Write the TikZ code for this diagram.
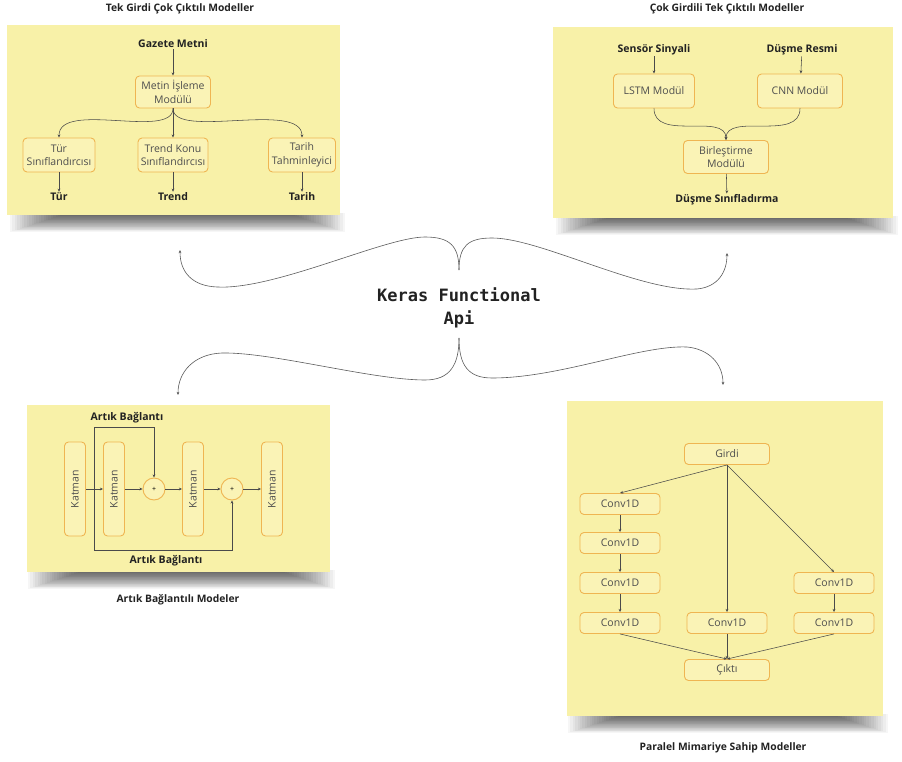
\documentclass[tikz,border=0pt]{standalone}
\usepackage{fontspec}
\setmainfont{Open Sans}
\setmonofont{DejaVu Sans Mono}
\usetikzlibrary{arrows.meta}

\definecolor{notefill}{HTML}{F8F1A8}
\definecolor{boxline}{HTML}{EFB552}
\definecolor{boxfill}{HTML}{FAF3B6}
\definecolor{wirecol}{HTML}{4A4A4A}
\definecolor{inkcol}{HTML}{222222}

% soft shadow under a note: stacked translucent strips, each narrower and shorter
% #1 left x, #2 right x, #3 lower edge of the note
\newcommand\noteshadow[3]{%
  \foreach \i in {0,...,23} {%
    \fill[black, opacity=0.034] (#1+2.4*\i, #3) rectangle (#2-2.4*\i, #3+19-0.78*\i);
  }%
}

\tikzset{
  note/.style={fill=notefill, draw=none},
  module/.style={draw=boxline, line width=0.9pt, rounded corners=4pt,
    fill=boxfill, align=center, inner sep=0pt, text=inkcol!80,
    font=\fontsize{10.5}{13.5}\selectfont},
  iotext/.style={font=\bfseries\fontsize{10.5}{13}\selectfont, text=inkcol, inner sep=1pt},
  paneltitle/.style={font=\bfseries\fontsize{10.3}{12}\selectfont, text=inkcol},
  adder/.style={circle, draw=boxline, line width=0.9pt, fill=boxfill,
    minimum size=22pt, inner sep=0pt, font=\fontsize{7}{8}\selectfont},
  wire/.style={draw=wirecol, line width=0.55pt, -{Stealth[length=3.2pt,width=2.8pt]}},
  brace/.style={draw=wirecol!90, line width=0.6pt, -{Stealth[length=3.2pt,width=2.8pt]}},
}

\begin{document}
\begin{tikzpicture}[x=1pt, y=-1pt]
\useasboundingbox[fill=white] (0,0) rectangle (902,762);

% ---------- shadows under the sticky notes ----------
\noteshadow{10}{345}{213}
\noteshadow{556}{898}{216}
\noteshadow{28}{335}{570}
\noteshadow{568}{888}{714}

% ---------- sticky-note panels ----------
\path[note] (7,25) rectangle (340,215);
\path[note] (553,27) rectangle (893,218);
\path[note] (27,405) rectangle (330,572);
\path[note] (567,401) rectangle (883,716);

% ---------- single input, multiple outputs ----------
\node[paneltitle] (t1) at (180,9) {Tek Girdi Çok Çıktılı Modeller};
\node[iotext] (gazete) at (173,44) {Gazete Metni};
\node[module, minimum width=75pt, minimum height=32pt] (metin) at (173,92) {Metin İşleme\\Modülü};
\node[module, minimum width=72pt, minimum height=34pt] (turc) at (59,155) {Tür\\Sınıflandırcısı};
\node[module, minimum width=70pt, minimum height=34pt] (trendc) at (173,155) {Trend Konu\\Sınıflandırcısı};
\node[module, minimum width=67pt, minimum height=34pt] (tarihc) at (302,155) {Tarih\\Tahminleyici};
\node[iotext] (tur) at (59,197) {Tür};
\node[iotext] (trend) at (173,197) {Trend};
\node[iotext] (tarih) at (302,197) {Tarih};

\draw[wire] (gazete) -- (metin);
\draw[wire] (metin.south) .. controls (173,140) and (59,100) .. (turc.north);
\draw[wire] (metin.south) -- (trendc.north);
\draw[wire] (metin.south) .. controls (173,140) and (302,100) .. (tarihc.north);
\draw[wire] (turc) -- (tur);
\draw[wire] (trendc) -- (trend);
\draw[wire] (tarihc) -- (tarih);

% ---------- multiple inputs, single output ----------
\node[paneltitle] (t2) at (727,9) {Çok Girdili Tek Çıktılı Modeller};
\node[iotext] (sensor) at (654,50) {Sensör Sinyali};
\node[iotext] (resim) at (802,50) {Düşme Resmi};
\node[module, minimum width=81pt, minimum height=34pt] (lstm) at (654,91) {LSTM Modül};
\node[module, minimum width=85pt, minimum height=34pt] (cnn) at (800,91) {CNN Modül};
\node[module, minimum width=85pt, minimum height=33pt] (birles) at (726,157) {Birleştirme\\Modülü};
\node[iotext] (dusme) at (727,200) {Düşme Sınıfladırma};

\draw[wire] (sensor) -- (lstm);
\draw[wire] (resim) -- (cnn);
\draw[wire] (lstm.south) .. controls (654,142) and (726,112) .. (birles.north);
\draw[wire] (cnn.south) .. controls (800,142) and (726,112) .. (birles.north);
\draw[wire] (birles) -- (dusme);

% ---------- centre title and braces ----------
\node[font=\ttfamily\bfseries\fontsize{17}{23}\selectfont, align=center, text=inkcol] (api) at (459,308) {Keras Functional\\Api};
\coordinate (cusptop) at (459,270);
\coordinate (cuspbot) at (459,338);
\coordinate (toTL) at (180,250);
\coordinate (toTR) at (727,253);
\coordinate (toBL) at (178,395);
\coordinate (toBR) at (723,385);

\draw[brace] (cusptop) .. controls (459,246) and (450,237) .. (425,237)
  .. controls (385,237) and (275,290) .. (217,287)
  .. controls (192,286) and (180,272) .. (toTL);
\draw[brace] (cusptop) .. controls (459,246) and (468,238) .. (492,238)
  .. controls (540,238) and (640,292) .. (697,289)
  .. controls (718,287) and (727,272) .. (toTR);
\draw[brace] (cuspbot) .. controls (459,365) and (450,380) .. (425,380)
  .. controls (372,380) and (272,352) .. (222,353)
  .. controls (194,354) and (178,372) .. (toBL);
\draw[brace] (cuspbot) .. controls (459,365) and (468,378) .. (492,378)
  .. controls (560,378) and (640,345) .. (687,347)
  .. controls (709,349) and (723,364) .. (toBR);

% ---------- residual connections ----------
\node[paneltitle] (t3) at (178,600) {Artık Bağlantılı Modeler};
\node[module, minimum width=21pt, minimum height=94pt] (k1) at (75,489) {\rotatebox{90}{Katman}};
\node[module, minimum width=21pt, minimum height=94pt] (k2) at (114,489) {\rotatebox{90}{Katman}};
\node[adder] (p1) at (154,489) {+};
\node[module, minimum width=21pt, minimum height=94pt] (k3) at (193,489) {\rotatebox{90}{Katman}};
\node[adder] (p2) at (232,489) {+};
\node[module, minimum width=21pt, minimum height=94pt] (k4) at (272,489) {\rotatebox{90}{Katman}};
\node[iotext] (skiptop) at (127,418) {Artık Bağlantı};
\node[iotext] (skipbot) at (166,561) {Artık Bağlantı};
\coordinate (split) at (94,489);
\coordinate (turntop) at (94,427);
\coordinate (turnbot) at (94,550);

\draw[wire] (k1) -- (k2);
\draw[wire] (k2) -- (p1);
\draw[wire] (p1) -- (k3);
\draw[wire] (k3) -- (p2);
\draw[wire] (p2) -- (k4);
\draw[wire] (split) -- (turntop) -| (p1.north);
\draw[wire] (split) -- (turnbot) -| (p2.south);

% ---------- parallel branches ----------
\node[paneltitle] (t4) at (723,748) {Paralel Mimariye Sahip Modeller};
\node[module, minimum width=85pt, minimum height=21pt] (girdi) at (727,454) {Girdi};
\node[module, minimum width=80pt, minimum height=21pt] (a1) at (620,504) {Conv1D};
\node[module, minimum width=80pt, minimum height=21pt] (a2) at (620,543) {Conv1D};
\node[module, minimum width=80pt, minimum height=21pt] (a3) at (620,583) {Conv1D};
\node[module, minimum width=80pt, minimum height=21pt] (a4) at (620,623) {Conv1D};
\node[module, minimum width=80pt, minimum height=21pt] (b1) at (727,623) {Conv1D};
\node[module, minimum width=80pt, minimum height=21pt] (c1) at (834,583) {Conv1D};
\node[module, minimum width=80pt, minimum height=21pt] (c2) at (834,623) {Conv1D};
\node[module, minimum width=85pt, minimum height=21pt] (cikti) at (727,670) {Çıktı};

\draw[wire] (girdi.south) -- (a1.north);
\draw[wire] (girdi.south) -- (b1.north);
\draw[wire] (girdi.south) -- (c1.north);
\draw[wire] (a1) -- (a2);
\draw[wire] (a2) -- (a3);
\draw[wire] (a3) -- (a4);
\draw[wire] (c1) -- (c2);
\draw[wire] (a4.south) -- (cikti.north);
\draw[wire] (b1.south) -- (cikti.north);
\draw[wire] (c2.south) -- (cikti.north);
\end{tikzpicture}
\end{document}
